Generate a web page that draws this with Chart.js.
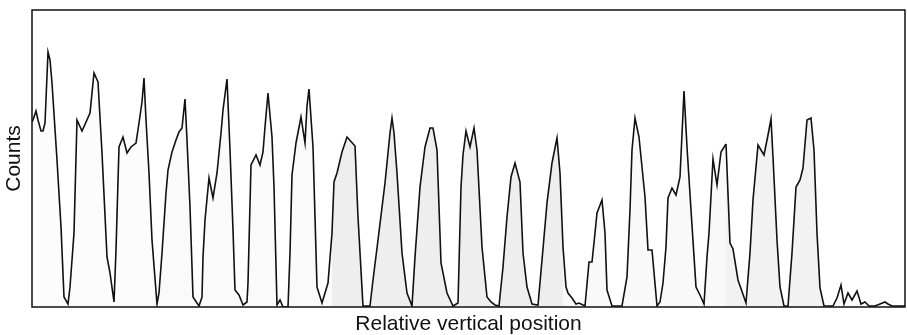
<!DOCTYPE html>
<html><head><meta charset="utf-8">
<script src="https://cdn.jsdelivr.net/npm/chart.js@4/dist/chart.umd.min.js"></script>
<style>html,body{margin:0;padding:0;background:#fff}#wrap{width:907px;height:335px}</style>
</head><body><div id="wrap"><canvas id="c"></canvas></div>
<script>
const positions = [0,1,4,6,9,11,13,16,18,20,25,29,32,36,38,42,45,50,58,62,66,70,75,78,82,84,87,91,95,99,104,107,110,112,114,117,120,125,127,130,134,136,140,144,147,150,153,155,158,161,165,167,170,171,173,177,181,185,189,191,195,198,201,203,207,211,215,216,219,224,228,231,233,236,240,242,245,248,251,256,258,260,264,269,273,275,277,281,285,290,296,300,302,305,310,315,323,326,331,338,341,346,353,358,360,362,365,370,375,380,383,388,393,398,401,405,409,415,421,426,429,431,434,438,442,445,450,455,459,463,467,471,475,479,483,488,491,495,500,506,510,515,520,525,528,531,534,536,540,544,547,553,557,560,563,565,570,573,575,580,590,595,598,600,603,607,611,613,616,620,625,628,631,634,636,640,644,648,651,652,655,659,664,668,672,675,677,681,685,689,694,698,701,706,714,718,721,726,732,736,739,741,745,748,752,756,760,764,768,771,775,779,782,785,788,792,801,805,809,812,816,820,825,829,833,837,843,848,853,856,860,873];
const counts = [185,187,196,187,176,176,184,255,247,224,147,80,10,3,20,74,187,176,194,234,225,154,50,34,5,57,160,170,154,160,164,184,205,229,187,134,67,3,14,54,114,137,155,167,175,179,208,167,100,10,4,1,10,50,87,129,109,134,174,197,228,157,77,17,12,2,5,24,142,152,142,155,180,214,170,120,2,7,0,0,54,132,164,190,164,201,218,160,20,4,24,74,125,134,155,170,161,90,1,1,27,67,124,174,189,174,134,54,14,1,50,120,160,179,179,157,44,14,1,4,120,152,176,160,179,157,60,10,5,2,1,40,90,130,144,125,54,20,3,2,47,104,144,169,134,60,20,14,9,3,4,1,45,45,74,94,107,74,17,1,1,30,97,157,189,170,130,110,57,57,1,5,24,60,109,119,112,130,194,216,160,97,20,12,3,50,74,148,122,155,163,64,58,27,4,54,107,162,152,172,188,150,67,20,1,1,54,120,127,139,187,189,157,74,19,1,1,9,22,3,14,7,16,3,5,1,1,3,5,3,1,1];
const xTitle = "Relative vertical position";
const yTitle = "Counts";

function shade(x){
  if (x < 120) return 'rgba(0,0,0,0.01)';
  if (x < 300) return 'rgba(0,0,0,0.02)';
  if (x < 530) return 'rgba(0,0,0,0.065)';
  if (x < 690) return 'rgba(0,0,0,0.025)';
  if (x < 800) return 'rgba(0,0,0,0.05)';
  return 'rgba(0,0,0,0.015)';
}

const frame = {
  id: 'frame',
  afterDraw(chart){
    const a = chart.chartArea, ctx = chart.ctx;
    ctx.save();
    ctx.strokeStyle = '#111';
    ctx.lineWidth = 1.5;
    ctx.strokeRect(a.left, a.top, a.right - a.left, a.bottom - a.top);
    ctx.restore();
  }
};

const titleFont = { family: '"Liberation Sans", Arial, sans-serif', size: 21, lineHeight: 1 };

new Chart(document.getElementById('c'), {
  type: 'line',
  data: {
    datasets: [{
      data: positions.map((p, i) => ({x: p, y: counts[i]})),
      borderColor: '#111',
      borderWidth: 1.6,
      pointRadius: 0,
      tension: 0,
      fill: 'origin',
      backgroundColor: 'rgba(0,0,0,0.03)',
      segment: { backgroundColor: ctx => shade(ctx.p0.parsed.x) }
    }]
  },
  options: {
    responsive: true,
    maintainAspectRatio: false,
    animation: false,
    layout: { padding: { left: 0, top: 10, right: 2, bottom: 0 } },
    plugins: { legend: { display: false }, tooltip: { enabled: false } },
    scales: {
      x: {
        type: 'linear', min: 0, max: 873,
        grid: { display: false, drawTicks: false },
        border: { display: false },
        ticks: { display: false },
        title: { display: true, text: xTitle, color: '#111', padding: { top: 7, bottom: 0 }, font: titleFont }
      },
      y: {
        min: 0, max: 297,
        grid: { display: false, drawTicks: false },
        border: { display: false },
        ticks: { display: false },
        title: { display: true, text: yTitle, color: '#111', padding: { top: 4, bottom: 7 }, font: titleFont }
      }
    }
  },
  plugins: [frame]
});
</script></body></html>
